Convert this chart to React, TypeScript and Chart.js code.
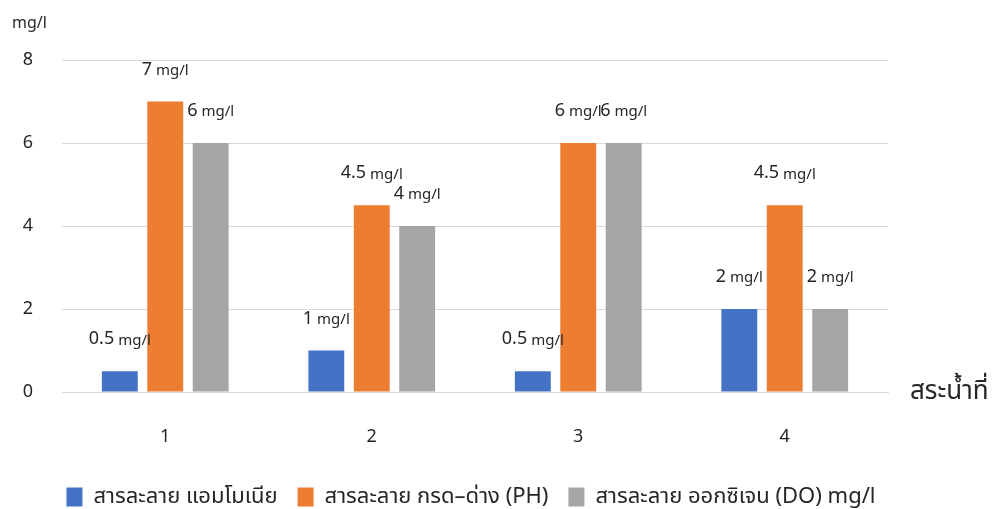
import { useEffect, useRef } from "react";
import { Chart, registerables } from "chart.js";

Chart.register(...registerables);

// Water-quality readings per pond
const ponds = ["1", "2", "3", "4"];
const ammonia = [0.5, 1, 0.5, 2];
const acidity = [7, 4.5, 6, 4.5];
const oxygen = [6, 4, 6, 2];
const seriesNames = [
  "สารละลาย แอมโมเนีย",
  "สารละลาย กรด–ด่าง (PH)",
  "สารละลาย ออกซิเจน (DO) mg/l",
];
const seriesColors = ["#4472C4", "#ED7D31", "#A5A5A5"];
const yMin = 0;
const yMax = 8;
const yStep = 2;
const unit = "mg/l";
const yTitle = "mg/l";
const xTitle = "สระน้ำที่";

const FONT = "'Noto Sans', 'Noto Sans Thai', Tahoma, sans-serif";
const TEXT = "#262626";

// Writes "<value> mg/l" above every bar
const valueLabels = {
  id: "valueLabels",
  afterDatasetsDraw(chart: any) {
    const ctx = chart.ctx;
    ctx.save();
    ctx.fillStyle = TEXT;
    ctx.textBaseline = "middle";
    ctx.textAlign = "left";
    chart.data.datasets.forEach((ds: any, di: number) => {
      const meta = chart.getDatasetMeta(di);
      meta.data.forEach((el: any, i: number) => {
        const num = String(ds.data[i]);
        const rest = " " + unit;
        ctx.font = `18px ${FONT}`;
        const wn = ctx.measureText(num).width;
        ctx.font = `15px ${FONT}`;
        const wu = ctx.measureText(rest).width;
        const x0 = el.x - (wn + wu) / 2;
        const y = el.y - 32;
        ctx.font = `18px ${FONT}`;
        ctx.fillText(num, x0, y);
        ctx.font = `15px ${FONT}`;
        ctx.fillText(rest, x0 + wn, y + 1);
      });
    });
    ctx.restore();
  },
};

// Unit above the value axis, pond caption at the right end of the baseline
const axisTitles = {
  id: "axisTitles",
  afterDraw(chart: any) {
    const ctx = chart.ctx;
    const area = chart.chartArea;
    const y0 = chart.scales.y.getPixelForValue(0);
    ctx.save();
    ctx.fillStyle = TEXT;
    ctx.textBaseline = "middle";
    ctx.textAlign = "left";
    ctx.font = `16px ${FONT}`;
    ctx.fillText(yTitle, 12, area.top - 37);
    ctx.font = `26px ${FONT}`;
    ctx.fillText(xTitle, area.right + 22, y0);
    ctx.restore();
  },
};

// Centres the legend row under the plot area instead of the whole canvas
const legendUnderPlot = {
  id: "legendUnderPlot",
  afterLayout(chart: any) {
    const legend = chart.legend;
    if (!legend) return;
    const area = chart.chartArea;
    const width = legend.right - legend.left;
    const centre = (area.left + area.right) / 2 - 4;
    legend.left = centre - width / 2;
    legend.right = legend.left + width;
  },
};

export default function App() {
  const canvasRef = useRef<HTMLCanvasElement | null>(null);

  useEffect(() => {
    const canvas = canvasRef.current;
    if (!canvas) return;
    const series = [ammonia, acidity, oxygen];
    const chart = new Chart(canvas, {
      type: "bar",
      data: {
        labels: ponds,
        datasets: series.map((values, i) => ({
          label: seriesNames[i],
          data: values,
          backgroundColor: seriesColors[i],
          borderWidth: 0,
          categoryPercentage: 0.66,
          barPercentage: 0.79,
        })),
      },
      options: {
        responsive: false,
        animation: false,
        layout: { padding: { left: 0, right: 107, top: 60, bottom: -9 } },
        plugins: {
          tooltip: { enabled: false },
          legend: {
            position: "bottom",
            labels: {
              boxWidth: 16,
              boxHeight: 19,
              padding: 20,
              color: TEXT,
              font: { family: FONT, size: 22 },
            },
          },
        },
        scales: {
          x: {
            grid: { display: false, drawTicks: false },
            border: { display: true, color: "#D9D9D9", width: 1 },
            ticks: {
              color: TEXT,
              padding: 34,
              font: { family: FONT, size: 18 },
            },
            afterFit(scale: any) {
              scale.height = 74;
            },
          },
          y: {
            min: yMin,
            max: yMax,
            grid: { color: "#D9D9D9", drawTicks: false },
            border: { display: false },
            ticks: {
              stepSize: yStep,
              color: TEXT,
              padding: 29,
              font: { family: FONT, size: 18 },
            },
            afterFit(scale: any) {
              scale.width = 62;
            },
          },
        },
      },
      plugins: [valueLabels, axisTitles, legendUnderPlot],
    });
    return () => chart.destroy();
  }, []);

  return (
    <div style={{ position: "fixed", left: 0, top: 0, width: 995, height: 509, background: "#fff" }}>
      <canvas ref={canvasRef} width={995} height={509} />
    </div>
  );
}
